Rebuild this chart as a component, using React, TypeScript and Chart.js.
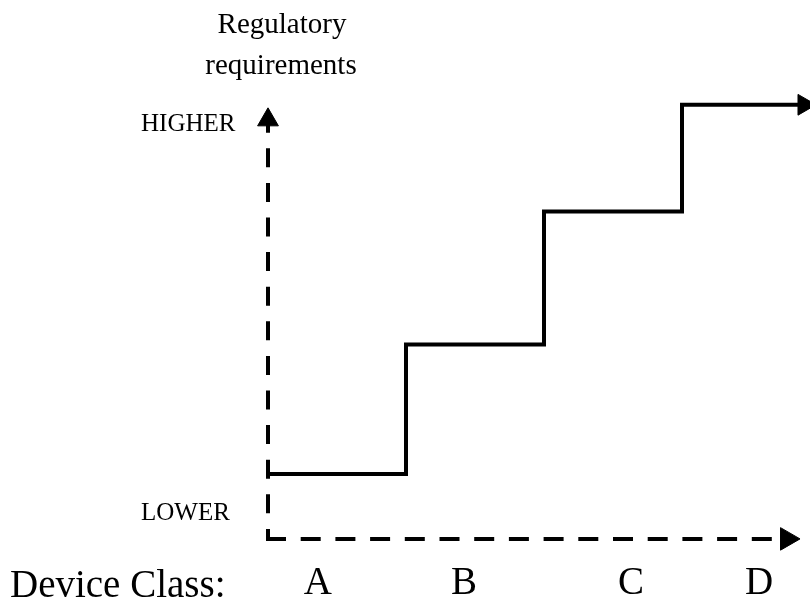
import React, { useEffect, useRef } from "react";
import { Chart, registerables } from "chart.js";

Chart.register(...registerables);

// ---- data ----
const classBoundaries = [0, 1, 2, 3, 3.884];
const requirementLevels = [0.99, 2.97, 5.0, 6.63, 6.63];
const classTickPositions = [0.362, 1.42, 2.63, 3.558];
const classLabels = ["A", "B", "C", "D"];
const levelTickPositions = [0.386, 6.327];
const levelLabels = ["LOWER", "HIGHER"];
const xAxisArrowEnd = 3.761;
const yAxisArrowEnd = 6.4;
const yAxisTitleLines = ["Regulatory", "requirements"];
const xAxisTitle = "Device Class:";

const FONT = "'Liberation Serif', 'Times New Roman', serif";

const textPlugin = {
  id: "freeText",
  afterDraw(chart: any) {
    const ctx = chart.ctx;
    ctx.save();
    ctx.fillStyle = "#000";
    ctx.textBaseline = "alphabetic";
    ctx.textAlign = "center";
    ctx.font = `29px ${FONT}`;
    ctx.fillText(yAxisTitleLines[0], 282, 33);
    ctx.fillText(yAxisTitleLines[1], 281, 74);
    ctx.textAlign = "left";
    ctx.font = `39px ${FONT}`;
    ctx.fillText(xAxisTitle, 10, 597);
    ctx.restore();
  },
};

export default function App() {
  const ref = useRef<HTMLCanvasElement | null>(null);

  useEffect(() => {
    if (!ref.current) return;
    const stepData = classBoundaries.map((x, i) => ({ x, y: requirementLevels[i] }));
    const chart = new Chart(ref.current, {
      type: "line",
      data: {
        datasets: [
          {
            label: "y-axis",
            data: [
              { x: 0, y: 0 },
              { x: 0, y: yAxisArrowEnd },
            ],
            borderColor: "#000",
            borderWidth: 4,
            borderDash: [15, 19.6],
            borderDashOffset: 7,
            borderCapStyle: "square",
            pointRadius: [0, 12],
            pointStyle: "triangle",
            pointRotation: 0,
            pointBackgroundColor: "#000",
            pointBorderColor: "#000",
            pointBorderWidth: 1,
            clip: false,
          },
          {
            label: "x-axis",
            data: [
              { x: 0, y: 0 },
              { x: xAxisArrowEnd, y: 0 },
            ],
            borderColor: "#000",
            borderWidth: 4,
            borderDash: [16, 18.7],
            borderDashOffset: 0,
            borderCapStyle: "square",
            pointRadius: [0, 13],
            pointStyle: "triangle",
            pointRotation: 90,
            pointBackgroundColor: "#000",
            pointBorderColor: "#000",
            pointBorderWidth: 1,
            clip: false,
          },
          {
            label: "requirements",
            data: stepData,
            stepped: "before",
            borderColor: "#000",
            borderWidth: 4,
            borderJoinStyle: "miter",
            borderCapStyle: "butt",
            pointRadius: stepData.map((_, i) => (i === stepData.length - 1 ? 12 : 0)),
            pointStyle: "triangle",
            pointRotation: 90,
            pointBackgroundColor: "#000",
            pointBorderColor: "#000",
            pointBorderWidth: 1,
            clip: false,
          },
        ],
      },
      options: {
        animation: false,
        responsive: true,
        maintainAspectRatio: false,
        layout: { autoPadding: false, padding: { left: 141, right: 0, top: 0, bottom: 0 } },
        plugins: {
          legend: { display: false },
          tooltip: { enabled: false },
          title: { display: false },
        },
        scales: {
          x: {
            type: "linear",
            min: 0,
            max: 3.9275,
            grid: { display: false, drawTicks: false },
            border: { display: false },
            afterBuildTicks: (scale: any) => {
              scale.ticks = classTickPositions.map((v) => ({ value: v }));
            },
            afterFit: (scale: any) => {
              scale.height = 48;
              scale.paddingLeft = 0;
              scale.paddingRight = 0;
            },
            ticks: {
              autoSkip: false,
              maxRotation: 0,
              minRotation: 0,
              padding: 8,
              color: "#000",
              font: { family: FONT, size: 39 },
              callback: (_v: any, i: number) => classLabels[i],
            },
          },
          y: {
            type: "linear",
            min: -0.2,
            max: 8.23,
            grid: { display: false, drawTicks: false },
            border: { display: false },
            afterBuildTicks: (scale: any) => {
              scale.ticks = levelTickPositions.map((v) => ({ value: v }));
            },
            afterFit: (scale: any) => {
              scale.width = 127;
              scale.paddingTop = 0;
              scale.paddingBottom = 0;
            },
            ticks: {
              autoSkip: false,
              crossAlign: "far",
              padding: 0,
              color: "#000",
              font: { family: FONT, size: 25 },
              callback: (_v: any, i: number) => levelLabels[i],
            },
          },
        },
      },
      plugins: [textPlugin],
    } as any);
    return () => chart.destroy();
  }, []);

  return (
    <div style={{ position: "fixed", left: 0, top: 0, width: 810, height: 600, background: "#fff" }}>
      <canvas ref={ref} />
    </div>
  );
}
